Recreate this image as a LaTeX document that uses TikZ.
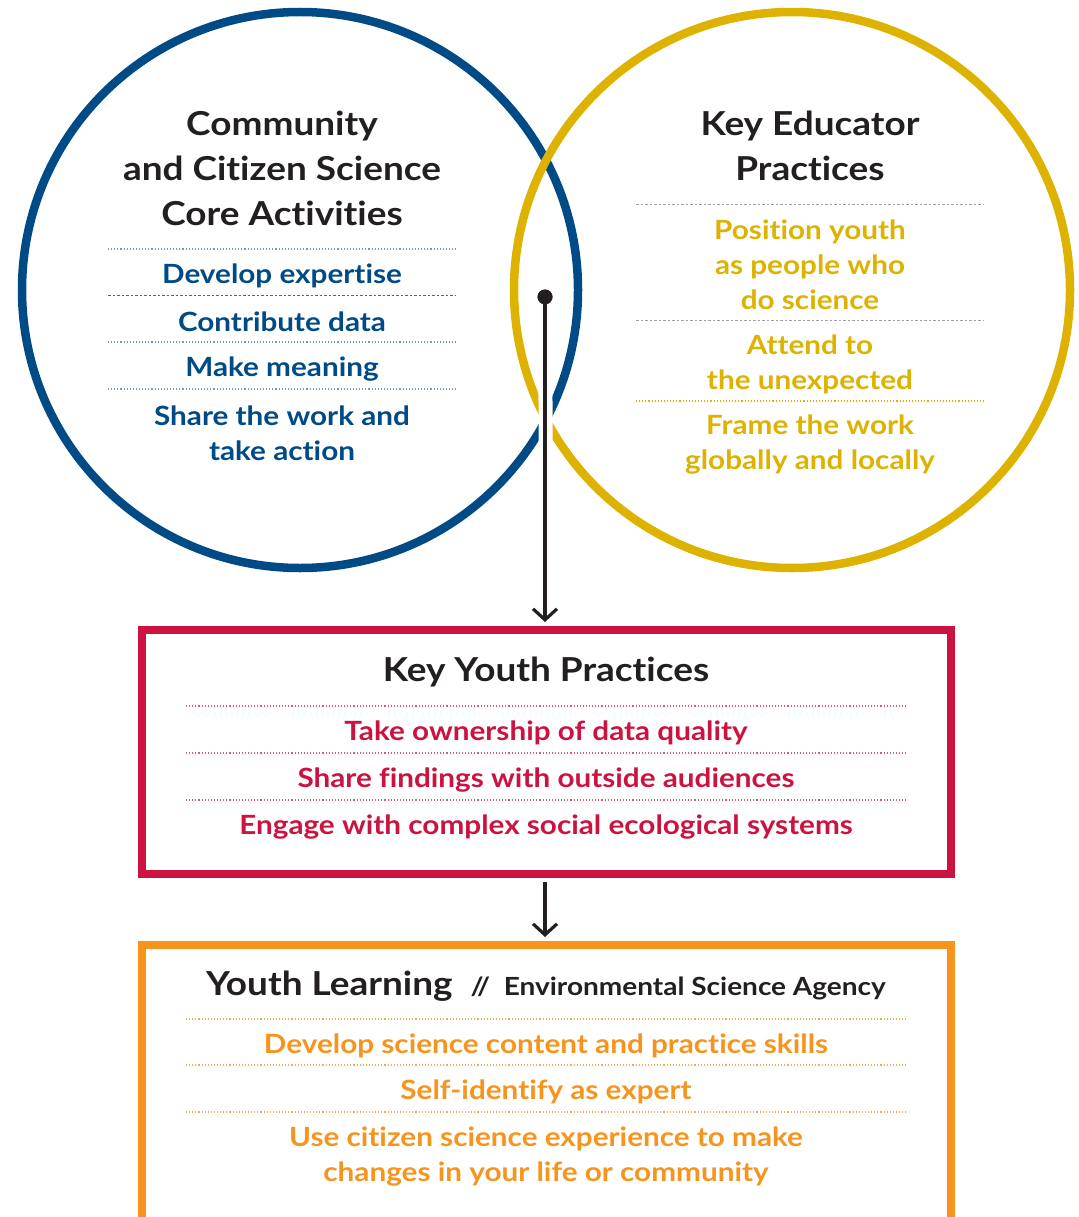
\documentclass[tikz,border=0pt]{standalone}
\usepackage{fontspec}
\setmainfont[FakeStretch=1.12,Ligatures=NoCommon]{Lato}
\usetikzlibrary{arrows.meta,positioning,calc}
\definecolor{cCore}{HTML}{004A86}
\definecolor{cCoreLt}{HTML}{6F98C2}
\definecolor{cEdu}{HTML}{DDB200}
\definecolor{cYouth}{HTML}{CC1241}
\definecolor{cLearn}{HTML}{F7941D}
\definecolor{cInk}{HTML}{231F20}
\definecolor{cGrey}{HTML}{A0A0A0}
\tikzset{
  ring/.style={circle,draw,line width=8.5pt,minimum size=556pt,inner sep=0pt},
  frame/.style={draw,line width=8pt,inner sep=0pt,minimum width=809pt},
  head/.style={align=center,text=cInk,yshift=-2pt,font=\bfseries\fontsize{33}{45}\selectfont},
  item/.style={align=center,yshift=-2pt,font=\bfseries\fontsize{26.5}{35}\selectfont},
  sep/.style={line width=1.1pt,dotted},
  sepdash/.style={line width=1pt,dash pattern=on 2.5pt off 2pt},
  flow/.style={-{Straight Barb[length=11pt,width=24pt,line width=3.2pt]},line width=3.2pt,cInk},
  gap/.style={white,line width=14pt},
}

\begin{document}
\begin{tikzpicture}[x=1pt,y=-1pt]
\useasboundingbox (0,0) rectangle (1078,1217);

% ============ THE TWO CIRCLES ============
\node[ring,draw=cCore] (core) at (300,290) {};
\node[ring,draw=cEdu] (edu) at (792,290) {};

% left circle: core activities
\node[head] (coreT) at (282,166) {Community\\ and Citizen Science\\ Core Activities};
\draw[sep,cCoreLt] (108,249) -- (456,249);
\node[item,text=cCore] (c1) at (282,274) {Develop expertise};
\draw[sepdash,cInk!70] (108,295) -- (456,295);
\node[item,text=cCore] (c2) at (282,320) {Contribute data};
\draw[sep,cCoreLt] (108,342) -- (456,342);
\node[item,text=cCore] (c3) at (282,367) {Make meaning};
\draw[sep,cCoreLt] (108,389) -- (456,389);
\node[item,text=cCore] (c4) at (282,431) {Share the work and\\ take action};

% right circle: educator practices
\node[head] (eduT) at (810,144) {Key Educator\\ Practices};
\draw[sepdash,cGrey] (636,204) -- (984,204);
\node[item,text=cEdu] (e1) at (810,263) {Position youth\\ as people who\\ do science};
\draw[sepdash,cGrey] (636,320) -- (984,320);
\node[item,text=cEdu] (e2) at (810,362) {Attend to\\ the unexpected};
\draw[sep,cEdu] (636,401) -- (984,401);
\node[item,text=cEdu] (e3) at (810,443) {Frame the work\\ globally and locally};

% ============ YOUTH PRACTICES BOX ============
\node[frame,draw=cYouth,minimum height=244pt] (youthP) at (546.5,752) {};
\node[head] (youthT) at (546,670) {Key Youth Practices};
\draw[sep,cYouth!70] (186,706) -- (906,706);
\node[item,text=cYouth] (y1) at (546,731) {Take ownership of data quality};
\draw[sep,cYouth!70] (186,753) -- (906,753);
\node[item,text=cYouth] (y2) at (546,778) {Share findings with outside audiences};
\draw[sep,cYouth!70] (186,800) -- (906,800);
\node[item,text=cYouth] (y3) at (546,825) {Engage with complex social ecological systems};

% ============ YOUTH LEARNING BOX ============
\node[frame,draw=cLearn,minimum height=360pt] (learn) at (546.5,1125) {};
\node[head] (learnT) at (546,984) {Youth Learning\ \ {\fontsize{25}{35}\selectfont //\ \ Environmental Science Agency}};
\draw[sep,cLearn!80] (186,1019) -- (906,1019);
\node[item,text=cLearn] (l1) at (546,1044) {Develop science content and practice skills};
\draw[sep,cLearn!80] (186,1065) -- (906,1065);
\node[item,text=cLearn] (l2) at (546,1090) {Self-identify as expert};
\draw[sep,cLearn!80] (186,1112) -- (906,1112);
\node[item,text=cLearn] (l3) at (546,1155) {Use citizen science experience to make\\ changes in your life or community};

% ============ ARROWS ============
\node[circle,fill=cInk,minimum size=15pt,inner sep=0pt] (dot) at (545,297) {};
\draw[gap] (dot.center) -- ($(youthP.north)+(0,-12)$);
\node[circle,fill=cInk,minimum size=15pt,inner sep=0pt] at (dot) {};
\draw[flow] (dot.center) -- ([yshift=4pt]youthP.north -| dot);
\draw[flow] ([yshift=-4pt]youthP.south -| dot) -- ([yshift=4pt]learn.north -| dot);

\end{tikzpicture}
\end{document}
